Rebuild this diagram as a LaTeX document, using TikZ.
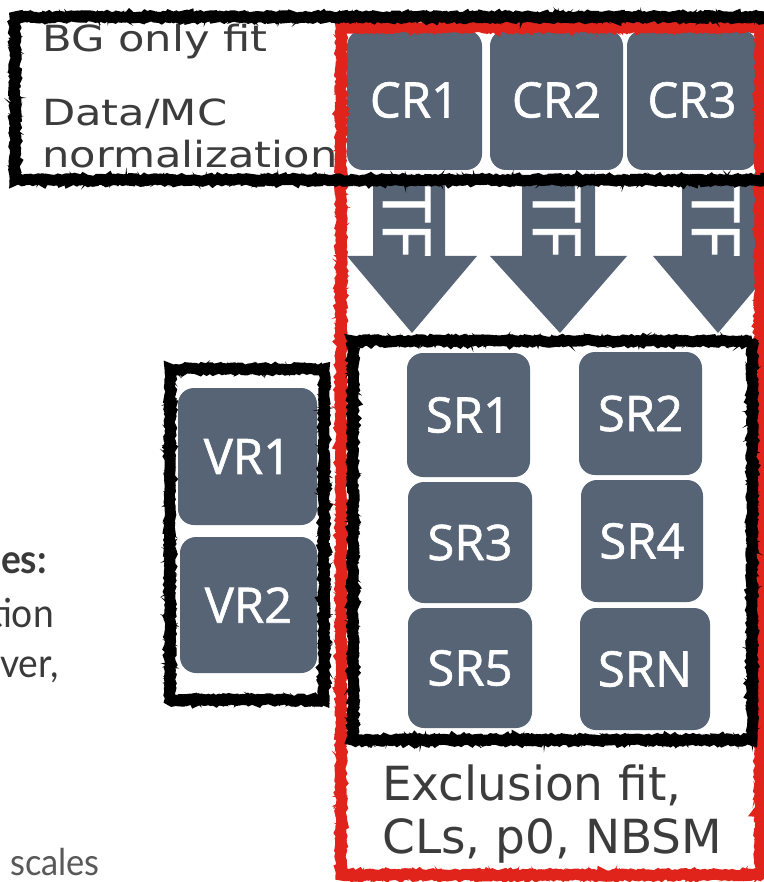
\documentclass[tikz,border=0pt]{standalone}
\usepackage{fontspec}
\setmainfont{DejaVu Sans}
\newfontfamily\boxfont[FakeBold=1.2]{Open Sans}
\newfontfamily\widefont[FakeStretch=1.2]{DejaVu Sans}
\newfontfamily\slidefont[FakeStretch=0.93]{Lato}
\usetikzlibrary{decorations.pathmorphing}
\definecolor{boxgray}{HTML}{566476}
\definecolor{txtgray}{HTML}{3C3C3C}
\definecolor{fraggray}{HTML}{3A3A3A}
\definecolor{chalkred}{HTML}{E0231B}
\tikzset{
 region/.style={fill=boxgray, rounded corners=16pt, text=white,
   font=\boxfont\fontsize{49}{49}\selectfont, inner sep=0pt},
 chalk/.style={draw=#1, line width=11pt, decorate,
   decoration={random steps, segment length=2.5pt, amplitude=1.3pt}},
 chalkfuzz/.style={draw=#1, line width=1.6pt, decorate,
   decoration={random steps, segment length=1.5pt, amplitude=5.5pt}},
 tfarrow/.style={fill=boxgray},
 tflabel/.style={rotate=-90, anchor=base west, inner sep=0pt, text=white,
   font=\boxfont\fontsize{66}{66}\selectfont},
 lbl/.style={anchor=base west, inner sep=0pt, text=txtgray},
 frag/.style={anchor=base east, inner sep=0pt, text=fraggray,
   font=\slidefont\fontsize{40}{40}\selectfont},
}
\begin{document}
\begin{tikzpicture}[x=1pt,y=-1pt]
\pgfmathsetseed{7}
\useasboundingbox (0,0) rectangle (763,882);
\fill[white] (0,0) rectangle (763,882);

% fragments of slide text cut at the left edge
\node[frag, font=\slidefont\bfseries\fontsize{40}{40}\selectfont] (f1) at (47,573) {es:};
\node[frag] (f2) at (54,627) {tion};
\node[frag] (f3) at (59,677) {ver,};
\node[frag, text=black!65, font=\slidefont\fontsize{37}{37}\selectfont] (f4) at (100,875) {scales};

% labels
\node[lbl, font=\widefont\fontsize{36}{36}\selectfont] (bgfit) at (42,52) {BG only fit};
\node[lbl, font=\widefont\fontsize{36}{36}\selectfont] (datamc) at (42,126) {Data/MC};
\node[lbl, font=\widefont\fontsize{36}{36}\selectfont] (norm) at (42,168) {normalization};
\node[lbl, font=\fontsize{47}{47}\selectfont] (excl1) at (382,800) {Exclusion fit,};
\node[lbl, font=\fontsize{47}{47}\selectfont] (excl2) at (382,853) {CLs, p0, NBSM};

% control regions
\node[region, minimum width=135pt, minimum height=140pt] (cr1) at (414.5,100) {CR1};
\node[region, minimum width=133pt, minimum height=140pt] (cr2) at (556.5,100) {CR2};
\node[region, minimum width=130pt, minimum height=140pt] (cr3) at (692,100) {CR3};

% transfer factor arrows
\fill[tfarrow] (373,182) -- (445,182) -- (445,256) -- (477,256) -- (412,333) -- (347,256) -- (373,256) -- cycle;
\fill[tfarrow] (522,182) -- (595,182) -- (595,256) -- (627,256) -- (560,333) -- (490,256) -- (522,256) -- cycle;
\fill[tfarrow] (682,182) -- (757,182) -- (757,256) -- (783,256) -- (718,333) -- (653,256) -- (682,256) -- cycle;
\begin{scope}
\clip (373,182) rectangle (445,257);
\node[tflabel] (tf1) at (383,186) {TF};
\end{scope}
\begin{scope}
\clip (522,182) rectangle (595,257);
\node[tflabel] (tf2) at (533,186) {TF};
\end{scope}
\begin{scope}
\clip (682,182) rectangle (757,257);
\node[tflabel] (tf3) at (692,186) {TF};
\end{scope}

% signal regions
\node[region, minimum width=123pt, minimum height=124pt] (sr1) at (468.5,415) {SR1};
\node[region, minimum width=123pt, minimum height=123pt] (sr2) at (640.5,413.5) {SR2};
\node[region, minimum width=124pt, minimum height=121pt] (sr3) at (470,542.5) {SR3};
\node[region, minimum width=122pt, minimum height=122pt] (sr4) at (642,541) {SR4};
\node[region, minimum width=124pt, minimum height=120pt] (sr5) at (470,668) {SR5};
\node[region, minimum width=130pt, minimum height=122pt] (srn) at (645,669) {SRN};

% validation regions
\node[region, minimum width=139pt, minimum height=137pt] (vr1) at (247.5,456.5) {VR1};
\node[region, minimum width=137pt, minimum height=136pt] (vr2) at (248.5,605) {VR2};

% red frame (exclusion fit)
\draw[chalk=chalkred] (341,27) rectangle (760,875);
\draw[chalkfuzz=chalkred] (341,27) rectangle (760,875);

% black frames
\draw[chalk=black] (15,17) rectangle (800,180);
\draw[chalkfuzz=black] (15,17) rectangle (800,180);
\draw[chalk=black] (353,341) rectangle (752,740);
\draw[chalkfuzz=black] (353,341) rectangle (752,740);
\draw[chalk=black] (170,369) rectangle (324,700);
\draw[chalkfuzz=black] (170,369) rectangle (324,700);
\end{tikzpicture}
\end{document}
